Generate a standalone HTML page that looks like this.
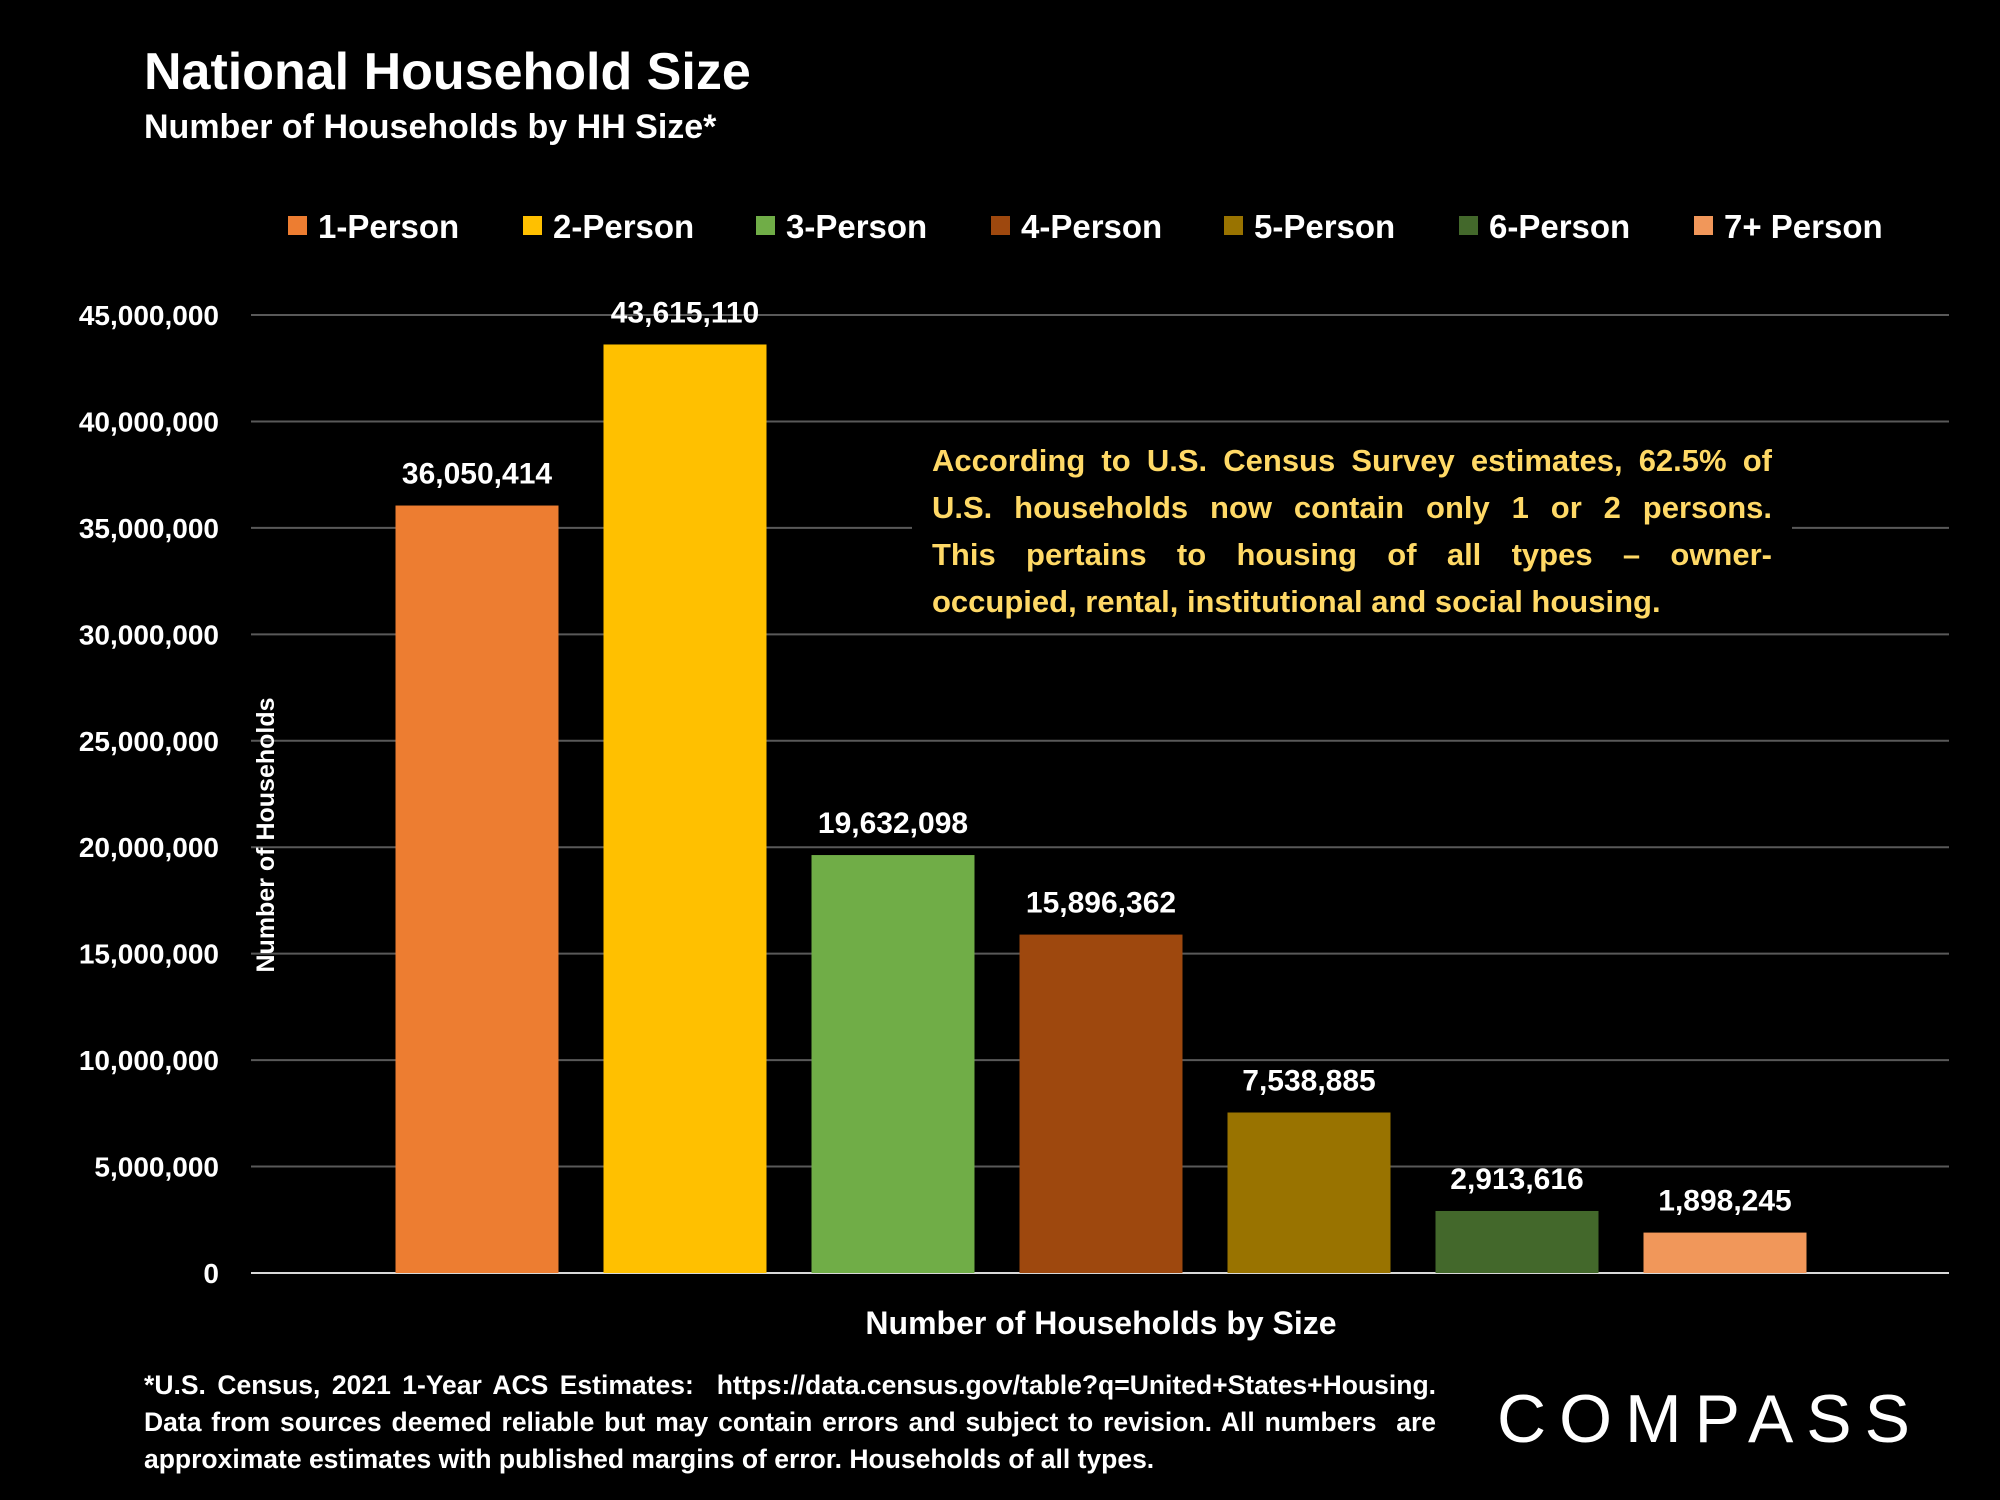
<!DOCTYPE html>
<html><head><meta charset="utf-8">
<style>
html,body{margin:0;padding:0;background:#000;}
body{width:2000px;height:1500px;overflow:hidden;position:relative;font-family:"Liberation Sans",Arial,sans-serif;color:#fff;}
.t{position:absolute;font-weight:bold;white-space:nowrap;}
.al{text-align:justify;text-align-last:justify;height:47px;white-space:nowrap;}
</style></head><body>
<div class="t" style="left:144px;top:42px;font-size:52px;">National Household Size</div>
<div class="t" style="left:144px;top:108px;font-size:34px;">Number of Households by HH Size*</div>
<svg id="chart" width="2000" height="1500" style="position:absolute;left:0;top:0" xmlns="http://www.w3.org/2000/svg"></svg>
<div style="position:absolute;left:912px;top:432px;width:880px;height:196px;background:#000;"></div>
<div style="position:absolute;left:932px;top:437px;width:840px;font-size:31px;font-weight:bold;color:#FFD966;line-height:47px;">
<div class="al">According to U.S. Census Survey estimates, 62.5% of</div>
<div class="al">U.S. households now contain only 1 or 2 persons.</div>
<div class="al">This pertains to housing of all types – owner-</div>
<div style="white-space:nowrap;">occupied, rental, institutional and social housing.</div>
</div>
<div style="position:absolute;left:144px;top:1367px;width:1292px;font-size:26.5px;font-weight:bold;line-height:37px;text-align:justify;text-align-last:left;">*U.S. Census, 2021 1-Year ACS Estimates:&nbsp; https://data.census.gov/table?q=United+States+Housing. Data from sources deemed reliable but may contain errors and subject to revision. All numbers &nbsp;are approximate estimates with published margins of error. Households of all types.</div>
<div style="position:absolute;left:1497px;top:1380px;font-size:68px;letter-spacing:13px;color:#fff;font-weight:normal;">COMPASS</div>
<script>
const categories=["1-Person","2-Person","3-Person","4-Person","5-Person","6-Person","7+ Person"];
const values=[36050414,43615110,19632098,15896362,7538885,2913616,1898245];
const valueLabels=["36,050,414","43,615,110","19,632,098","15,896,362","7,538,885","2,913,616","1,898,245"];
const ticks=[0,5000000,10000000,15000000,20000000,25000000,30000000,35000000,40000000,45000000];
const tickLabels=["0","5,000,000","10,000,000","15,000,000","20,000,000","25,000,000","30,000,000","35,000,000","40,000,000","45,000,000"];
const colors=["#ED7D31","#FFC000","#70AD47","#9E480E","#997300","#43682B","#F1975A"];
const svg=document.getElementById('chart');const NS="http://www.w3.org/2000/svg";
const x0=251,x1=1949,y0=1273,yTop=315,maxV=45000000;
const yS=v=>y0-(v/maxV)*(y0-yTop);
const step=208,bw=163,firstC=477;
const xC=i=>firstC+i*step;
function mk(t,a,p){const e=document.createElementNS(NS,t);for(const k in a)e.setAttribute(k,a[k]);(p||svg).appendChild(e);return e;}
ticks.forEach((v,i)=>{
 if(v>0){const g=mk('line',{x1:x0,x2:x1,y1:yS(v),y2:yS(v),stroke:'#595959','stroke-width':2});
 
 }
 const t=mk('text',{x:219,y:yS(v)+10,'text-anchor':'end','font-size':28,'font-weight':'bold',fill:'#fff','font-family':'Liberation Sans, sans-serif'});
 t.textContent=tickLabels[i];
 
 
});
const ax=mk('line',{x1:x0,x2:x1,y1:y0,y2:y0,stroke:'#d9d9d9','stroke-width':2});


values.forEach((v,i)=>{
 const r=mk('rect',{x:xC(i)-bw/2,y:yS(v),width:bw,height:y0-yS(v),fill:colors[i]});
 
 
 const t=mk('text',{x:xC(i),y:yS(v)-22,'text-anchor':'middle','font-size':30,'font-weight':'bold',fill:'#fff','font-family':'Liberation Sans, sans-serif'});
 t.textContent=valueLabels[i];
 
 
});
const legX=[288,523,756,991,1224,1459,1694];
categories.forEach((c,i)=>{
 const g=mk('g',{});
 
 
 mk('rect',{x:legX[i],y:216,width:19,height:19,fill:colors[i]},g);
 const t=mk('text',{x:legX[i]+30,y:238,'font-size':33,'font-weight':'bold',fill:'#fff','font-family':'Liberation Sans, sans-serif'},g);
 t.textContent=c;
});
const yt=mk('text',{x:0,y:0,transform:'translate(274,835) rotate(-90)','text-anchor':'middle','font-size':25,'font-weight':'bold',fill:'#fff','font-family':'Liberation Sans, sans-serif'});
yt.textContent='Number of Households';


const xt=mk('text',{x:1101,y:1334,'text-anchor':'middle','font-size':32,'font-weight':'bold',fill:'#fff','font-family':'Liberation Sans, sans-serif'});
xt.textContent='Number of Households by Size';


</script>
</body></html>
